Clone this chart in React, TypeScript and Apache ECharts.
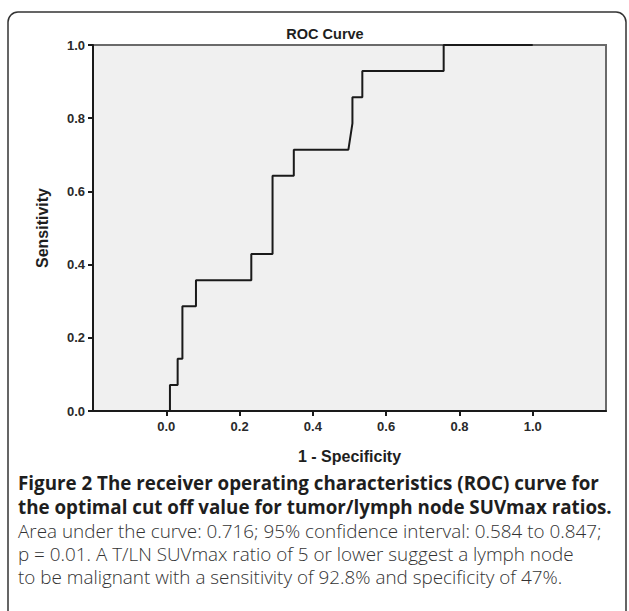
import React, { useEffect, useRef } from "react";
import * as echarts from "echarts";

// ROC curve step points (1 - specificity, sensitivity)
const fpr = [0, 0.01, 0.01, 0.031, 0.031, 0.044, 0.044, 0.081, 0.081, 0.232, 0.232, 0.29, 0.29, 0.348, 0.348, 0.497, 0.508, 0.508, 0.535, 0.535, 0.757, 0.757, 1.0];
const tpr = [0, 0, 0.071, 0.071, 0.143, 0.143, 0.286, 0.286, 0.357, 0.357, 0.429, 0.429, 0.643, 0.643, 0.714, 0.714, 0.786, 0.857, 0.857, 0.929, 0.929, 1.0, 1.0];

const xTicks = [0, 0.2, 0.4, 0.6, 0.8, 1.0];
const yTicks = [0, 0.2, 0.4, 0.6, 0.8, 1.0];

const chartTitle = "ROC Curve";
const xName = "1 - Specificity";
const yName = "Sensitivity";

const captionBold = [
  "Figure 2 The receiver operating characteristics (ROC) curve for",
  "the optimal cut off value for tumor/lymph node SUVmax ratios.",
];
const captionRegular = [
  "Area under the curve: 0.716; 95% confidence interval: 0.584 to 0.847;",
  "p = 0.01. A T/LN SUVmax ratio of 5 or lower suggest a lymph node",
  "to be malignant with a sensitivity of 92.8% and specificity of 47%.",
];

export default function App() {
  const ref = useRef<HTMLDivElement>(null);
  useEffect(() => {
    if (!ref.current) return;
    const chart = echarts.init(ref.current, null, { renderer: "svg" });
    const axisFont = { fontFamily: "Liberation Sans", fontSize: 13, color: "#2a2a2a" };
    const captionElems: any[] = [];
    captionBold.forEach((t, i) => {
      captionElems.push({
        type: "text",
        x: 18,
        y: 483 + i * 24,
        style: {
          text: t,
          fontFamily: "Open Sans",
          fontSize: 18.8,
          fontWeight: "bold",
          fill: "#1e1e1e",
          verticalAlign: "middle",
        },
      });
    });
    captionRegular.forEach((t, i) => {
      captionElems.push({
        type: "text",
        x: 18,
        y: 531 + i * 23,
        scaleX: 1.02,
        style: {
          text: t,
          fontFamily: "Open Sans",
          fontSize: 18.5,
          fontWeight: 300,
          fill: "#333",
          verticalAlign: "middle",
        },
      });
    });
    chart.setOption({
      animation: false,
      grid: {
        left: 93,
        right: 23,
        top: 45,
        bottom: 200,
        show: true,
        backgroundColor: "#f0f0f0",
        borderColor: "#6a6a6a",
        borderWidth: 2,
      },
      xAxis: {
        type: "value",
        min: -0.2,
        max: 1.2,
        interval: 0.2,
        name: xName,
        nameLocation: "middle",
        nameGap: 37,
        nameTextStyle: { ...axisFont, color: "#1e1e1e", fontSize: 16, fontWeight: "bold" },
        axisLine: { show: true, onZero: false, lineStyle: { color: "#1a1a1a", width: 2 } },
        axisTick: { show: true, customValues: xTicks, length: 5, lineStyle: { color: "#1a1a1a", width: 2 } },
        axisLabel: { customValues: xTicks, formatter: (v: number) => v.toFixed(1), margin: 9, fontWeight: "bold", ...axisFont },
        splitLine: { show: false },
      },
      yAxis: {
        type: "value",
        min: 0,
        max: 1,
        interval: 0.2,
        name: yName,
        nameLocation: "middle",
        nameGap: 43,
        nameTextStyle: { ...axisFont, color: "#1e1e1e", fontSize: 16, fontWeight: "bold" },
        axisLine: { show: true, onZero: false, lineStyle: { color: "#1a1a1a", width: 2 } },
        axisTick: { show: true, customValues: yTicks, length: 5, lineStyle: { color: "#1a1a1a", width: 2 } },
        axisLabel: { customValues: yTicks, formatter: (v: number) => v.toFixed(1), margin: 8, fontWeight: "bold", ...axisFont },
        splitLine: { show: false },
      },
      graphic: [
        {
          type: "rect",
          shape: { x: 8, y: 12, width: 618, height: 640, r: 10 },
          style: { fill: "none", stroke: "#333", lineWidth: 1.5 },
          silent: true,
        },
        {
          type: "text",
          x: 325,
          y: 34,
          style: {
            text: chartTitle,
            fontFamily: "Liberation Sans",
            fontSize: 14.5,
            fontWeight: "bold",
            fill: "#1e1e1e",
            align: "center",
            verticalAlign: "middle",
          },
        },
        ...captionElems,
      ],
      series: [
        {
          type: "line",
          data: fpr.map((x, i) => [x, tpr[i]]),
          showSymbol: false,
          lineStyle: { color: "#1a1a1a", width: 2 },
          z: 5,
        },
      ],
    });
    return () => chart.dispose();
  }, []);
  return (
    <div
      ref={ref}
      style={{ position: "absolute", left: 0, top: 0, width: 629, height: 611 }}
    />
  );
}
